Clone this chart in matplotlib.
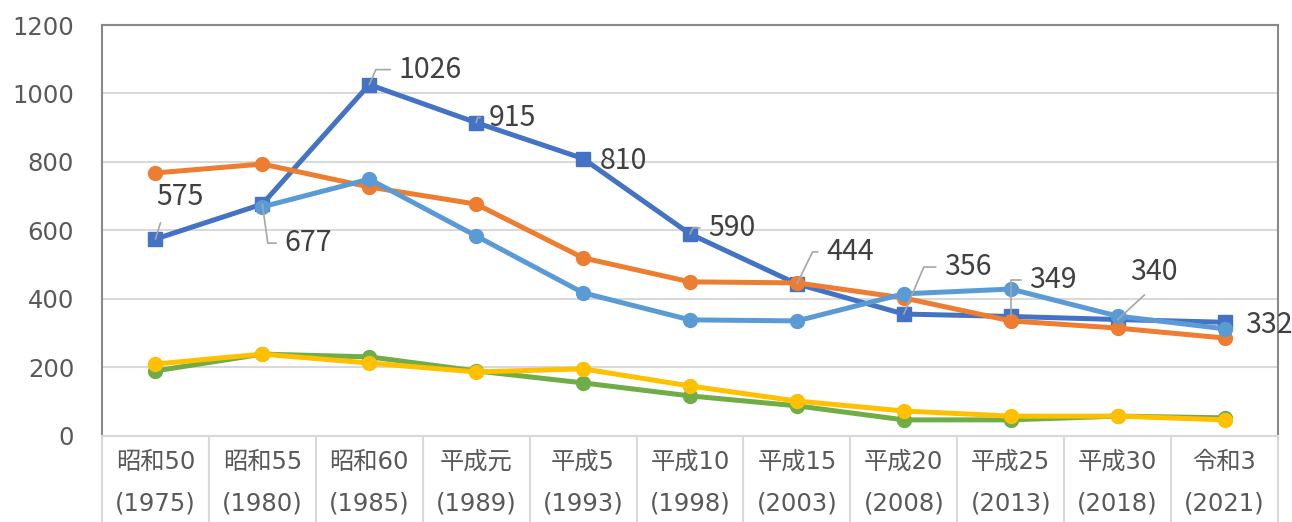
import matplotlib.pyplot as plt
import numpy as np

plt.rcParams['font.family'] = ['DejaVu Sans', 'Noto Sans CJK JP']

# data
era_labels = ['昭和50', '昭和55', '昭和60', '平成元', '平成5', '平成10',
              '平成15', '平成20', '平成25', '平成30', '令和3']
years = ['1975', '1980', '1985', '1989', '1993', '1998',
         '2003', '2008', '2013', '2018', '2021']
blue = [575, 677, 1026, 915, 810, 590, 444, 356, 349, 340, 332]
orange = [768, 794, 727, 677, 520, 450, 447, 403, 336, 315, 286]
light_blue = [np.nan, 669, 750, 584, 418, 339, 336, 415, 429, 350, 313]
green = [190, 239, 231, 190, 155, 117, 88, 47, 47, 58, 53]
yellow = [210, 239, 213, 187, 196, 146, 102, 73, 58, 58, 47]

# label placement for the blue series (offset in pixels, leader type, leader angle)
label_offsets = [(25, 44), (46, -37), (61, 17), (36, 7), (40, 0), (42, 8),
                 (53, 34), (64, 49), (42, 38), (36, 50), (44, -1)]
leaders = ['straight', 'elbow', 'elbow', 'elbow', None, 'elbow',
           'elbow', 'elbow', 'elbow', 'straight', None]
leader_angles = [0, -82, 66, 74, 0, 63, 64, 67, 90, 0, 0]

x = np.arange(len(era_labels))

fig = plt.figure(figsize=(12.92, 5.22), dpi=100)
ax = fig.add_axes([0.0789, 0.1648, 0.9103, 0.7873])

lw = 3.6
ax.plot(x, blue, color='#4472C4', lw=lw, marker='s', ms=9.5, zorder=3)
ax.plot(x, orange, color='#ED7D31', lw=lw, marker='o', ms=10, zorder=4)
ax.plot(x, green, color='#70AD47', lw=lw, marker='o', ms=10, zorder=3)
ax.plot(x, yellow, color='#FFC000', lw=lw, marker='o', ms=10, zorder=4)
ax.plot(x, light_blue, color='#5B9BD5', lw=lw, marker='o', ms=10, zorder=5)

for i, v in enumerate(blue):
    dx, dy = label_offsets[i]
    kind = leaders[i]
    props = None
    if kind == 'elbow':
        props = dict(arrowstyle='-', color='#A6A6A6', lw=1.2, shrinkA=4, shrinkB=0,
                     relpos=(0, 0.5),
                     connectionstyle='angle,angleA=0,angleB=%d,rad=0' % leader_angles[i])
    elif kind == 'straight':
        props = dict(arrowstyle='-', color='#A6A6A6', lw=1.2, shrinkA=6, shrinkB=0,
                     relpos=(0.15 if i == 0 else 0.5, 0))
    ax.annotate(str(v), (x[i], v), xytext=(dx, dy - 2), textcoords='offset pixels',
                ha='center', va='center', fontsize=20.5, color='#404040',
                family=['Noto Sans CJK JP', 'DejaVu Sans'],
                arrowprops=props, zorder=6, annotation_clip=False)

ax.set_xlim(-0.5, len(x) - 0.5)
ax.set_ylim(0, 1200)
ax.set_yticks(range(0, 1201, 200))
ax.grid(axis='y', color='#D9D9D9', lw=1.5, zorder=0)
ax.set_axisbelow(True)

ax.set_xticks(x)
ax.set_xticklabels([e + '\n(' + y + ')' for e, y in zip(era_labels, years)],
                   linespacing=1.95)
ax.set_xticks(np.arange(-0.5, len(x), 1), minor=True)
ax.tick_params(axis='x', which='major', length=0, pad=10, labelsize=17.5,
               labelcolor='#595959')
ax.tick_params(axis='x', which='minor', length=62, width=1.5, color='#D9D9D9')
ax.tick_params(axis='y', length=0, pad=20, labelsize=17.5, labelcolor='#595959')

for s in ['top', 'left', 'right']:
    ax.spines[s].set_color('#898989')
    ax.spines[s].set_linewidth(1.5)
ax.spines['bottom'].set_color('#D9D9D9')
ax.spines['bottom'].set_linewidth(1.5)

fig.savefig('out.png', dpi=100)
